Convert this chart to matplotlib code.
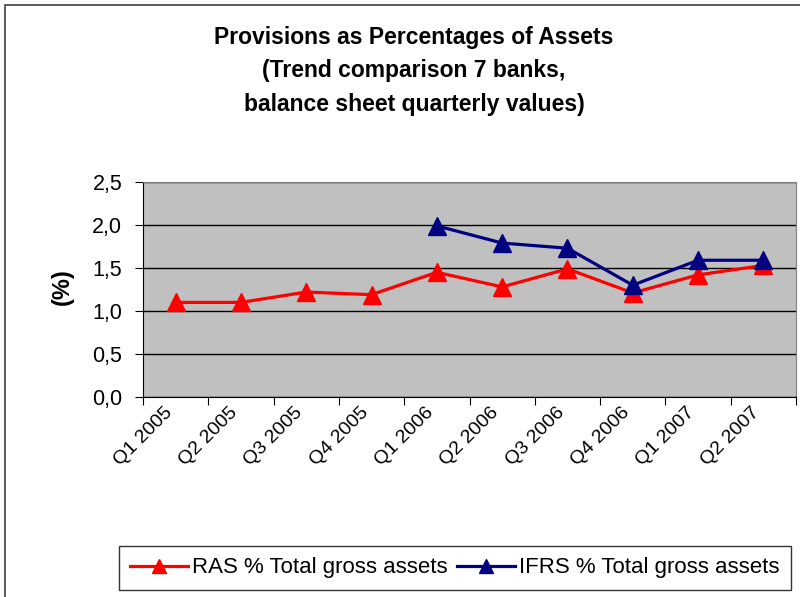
import matplotlib.pyplot as plt
from matplotlib.patches import Rectangle
from matplotlib.ticker import FuncFormatter, MultipleLocator

plt.rcParams['font.family'] = ['Liberation Sans', 'DejaVu Sans']

quarters = ["Q1 2005", "Q2 2005", "Q3 2005", "Q4 2005", "Q1 2006",
            "Q2 2006", "Q3 2006", "Q4 2006", "Q1 2007", "Q2 2007"]
ras = [1.10, 1.10, 1.22, 1.19, 1.45, 1.28, 1.49, 1.21, 1.42, 1.53]
ifrs_quarters = ["Q1 2006", "Q2 2006", "Q3 2006", "Q4 2006", "Q1 2007", "Q2 2007"]
ifrs = [1.99, 1.79, 1.73, 1.30, 1.59, 1.59]

W, H = 800, 597
fig = plt.figure(figsize=(8, 5.97), dpi=100)

# chart area border (cropped at right and bottom like the original)
fig.patches.append(Rectangle((5 / W, -0.05), 1.1, 1 - 5 / H + 0.05,
                             transform=fig.transFigure, fill=False,
                             edgecolor='#404040', linewidth=1.2))

ax = fig.add_axes([143 / W, 1 - 397 / H, 653 / W, 215 / H])
ax.set_facecolor('#C0C0C0')

x = list(range(len(quarters)))
x_ifrs = [quarters.index(q) for q in ifrs_quarters]

ax.plot(x, ras, color='#FF0000', lw=2.3, marker='^', ms=13,
        label='RAS % Total gross assets', zorder=3)
ax.plot(x_ifrs, ifrs, color='#000080', lw=2.3, marker='^', ms=13,
        label='IFRS % Total gross assets', zorder=4)

ax.set_xlim(-0.5, len(quarters) - 0.5)
ax.set_ylim(0, 2.5)
ax.yaxis.set_major_locator(MultipleLocator(0.5))
ax.yaxis.set_major_formatter(FuncFormatter(lambda v, p: f"{v:.1f}".replace('.', ',')))
ax.grid(axis='y', color='black', lw=1)
ax.set_axisbelow(True)

ax.set_xticks([i - 0.5 for i in x] + [len(x) - 0.5])
ax.set_xticklabels([])
ax.set_xticks(x, minor=True)
ax.set_xticklabels(quarters, minor=True, rotation=45, ha='right', va='top',
                   fontsize=14)
ax.tick_params(axis='x', which='minor', length=0, pad=5)
ax.tick_params(axis='x', which='major', length=6, direction='out', color='black')
ax.tick_params(axis='y', length=6, direction='out', labelsize=15.5, pad=9)

for s in ['top', 'right']:
    ax.spines[s].set_color('#808080')
for s in ['left', 'bottom']:
    ax.spines[s].set_color('black')

fig.text(414 / W, 1 - 71 / H,
         "Provisions as Percentages of Assets\n(Trend comparison 7 banks,\nbalance sheet quarterly values)",
         ha='center', va='center', fontsize=16.5, fontweight='bold', linespacing=1.6)
fig.text(62 / W, 1 - 287 / H, "(%)", rotation=90, ha='center', va='center',
         fontsize=17, fontweight='bold')

leg = fig.legend(loc='center', bbox_to_anchor=(455 / W, 1 - 568 / H), ncol=2,
                 fontsize=16, frameon=True, fancybox=False, edgecolor='black',
                 handlelength=2.6, columnspacing=0.4, handletextpad=0.2,
                 borderpad=0.5, markerscale=0.75)
leg.get_frame().set_linewidth(1)

fig.savefig('out.png', dpi=100)
